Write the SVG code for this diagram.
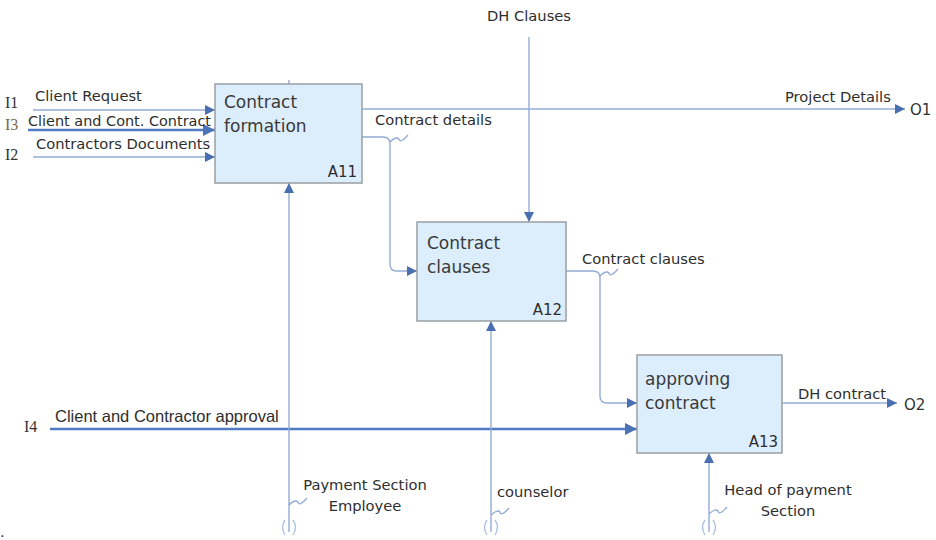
<svg xmlns="http://www.w3.org/2000/svg" width="936" height="540" viewBox="0 0 936 540">
  <defs>
    <marker id="arr" viewBox="0 0 10 10" refX="10" refY="5" markerWidth="10" markerHeight="10" markerUnits="userSpaceOnUse" orient="auto">
      <path d="M0,0 L10,5 L0,10 z" fill="#4a6fb0"/>
    </marker>
    <marker id="arrL" viewBox="0 0 10 10" refX="10" refY="5" markerWidth="13" markerHeight="12" markerUnits="userSpaceOnUse" orient="auto">
      <path d="M0,0 L10,5 L0,10 z" fill="#4a73b8"/>
    </marker>
  </defs>
  <style>
    .box { fill: #dcedfc; stroke: #9a9ea3; stroke-width: 1.5; }
    .btxt { font-family: "DejaVu Sans", Verdana, sans-serif; font-size: 17px; fill: #3a3a3a; }
    .bid { font-family: "DejaVu Sans", Verdana, sans-serif; font-size: 15px; fill: #2f2f2f; text-anchor: end; }
    .ln { fill: none; stroke: #93acd6; stroke-width: 1.4; }
    .lnA { fill: none; stroke: #93acd6; stroke-width: 1.4; marker-end: url(#arr); }
    .thick { fill: none; stroke: #4f7bc4; stroke-width: 2.4; marker-end: url(#arrL); }
    .lbl { font-family: "DejaVu Sans", Tahoma, sans-serif; font-size: 14.7px; fill: #2e2e2e; }
    .lblc { font-family: "Liberation Sans", Calibri, sans-serif; font-size: 16.5px; fill: #2e2e2e; }
    .io { font-family: "Liberation Serif", "Times New Roman", serif; font-size: 16px; fill: #333; }
    .iol { font-family: "DejaVu Sans", Tahoma, sans-serif; font-size: 15px; fill: #333; }
    .sq { fill: none; stroke: #93acd6; stroke-width: 1.3; }
    .tun { fill: none; stroke: #a9bfe0; stroke-width: 1.3; }
  </style>

  <!-- connectors -->
  <g id="connectors">
    <!-- inputs to A11 -->
    <line class="lnA" x1="33" y1="110" x2="215" y2="110"/>
    <line class="thick" x1="28" y1="130" x2="215" y2="130"/>
    <line class="lnA" x1="33" y1="157" x2="215" y2="157"/>
    <!-- A11 output: Project Details -->
    <line class="lnA" x1="362" y1="109" x2="905" y2="109"/>
    <!-- A11 -> A12: Contract details -->
    <path class="lnA" d="M362,137 L383,137 Q390,137 390,144 L390,264 Q390,271 397,271 L417,271"/>
    <path class="sq" d="M390,142 Q396,136 399,139 Q400,144 408,135"/>
    <!-- DH Clauses control -->
    <line class="lnA" x1="529" y1="37" x2="529" y2="222"/>
    <!-- A12 -> A13: Contract clauses -->
    <path class="lnA" d="M566,271 L593,271 Q600,271 600,278 L600,396 Q600,403 607,403 L637,403"/>
    <path class="sq" d="M600,276 Q606,270 609,273 Q610,278 618,269"/>
    <!-- I4 -->
    <line class="thick" x1="50" y1="429" x2="637" y2="429"/>
    <!-- A13 output: DH contract -->
    <line class="lnA" x1="782" y1="403" x2="897" y2="403"/>
    <!-- mechanisms -->
    <line class="lnA" x1="289" y1="532" x2="289" y2="183"/>
    <line class="lnA" x1="491" y1="532" x2="491" y2="321"/>
    <line class="lnA" x1="709" y1="532" x2="709" y2="453"/>
    <line class="ln" x1="289" y1="80" x2="289" y2="84"/>
    <path class="sq" d="M289,505 Q295,499 298,502 Q299,507 307,498"/>
    <path class="sq" d="M491,515 Q497,509 500,512 Q501,517 509,508"/>
    <path class="sq" d="M709,514 Q715,508 718,511 Q719,516 727,507"/>
    <!-- tunnel marks -->
    <path class="tun" d="M285,520 Q280,527 285,535 M293,520 Q298,527 293,535"/>
    <path class="tun" d="M487,520 Q482,527 487,535 M495,520 Q500,527 495,535"/>
    <path class="tun" d="M705,520 Q700,527 705,535 M713,520 Q718,527 713,535"/>
  </g>

  <!-- A11 -->
  <g id="A11">
    <rect class="box" x="215" y="84" width="147" height="99"/>
    <text class="btxt" x="224" y="108">Contract</text>
    <text class="btxt" x="224" y="132">formation</text>
    <text class="bid" x="357" y="177">A11</text>
  </g>

  <!-- A12 -->
  <g id="A12">
    <rect class="box" x="417" y="222" width="149" height="99"/>
    <text class="btxt" x="427" y="249">Contract</text>
    <text class="btxt" x="427" y="273">clauses</text>
    <text class="bid" x="562" y="315">A12</text>
  </g>

  <!-- A13 -->
  <g id="A13">
    <rect class="box" x="637" y="355" width="145" height="98"/>
    <text class="btxt" x="645" y="385">approving</text>
    <text class="btxt" x="645" y="409">contract</text>
    <text class="bid" x="778" y="447">A13</text>
  </g>

  <!-- boundary labels -->
  <g id="labels">
    <text class="io" x="5" y="108">I1</text>
    <text class="io" x="5" y="130" style="fill:#7a6a4a">I3</text>
    <text class="io" x="5" y="160">I2</text>
    <text class="io" x="24" y="432">I4</text>
    <text class="lbl" x="35" y="101">Client Request</text>
    <text class="lbl" x="28" y="126" textLength="183" lengthAdjust="spacingAndGlyphs">Client and Cont. Contract</text>
    <text class="lbl" x="36" y="149">Contractors Documents</text>
    <text class="lblc" x="55" y="422">Client and Contractor approval</text>
    <text class="lbl" x="529" y="21" text-anchor="middle">DH Clauses</text>
    <text class="lbl" x="785" y="102">Project Details</text>
    <text class="iol" x="910" y="115">O1</text>
    <text class="lbl" x="375" y="125">Contract details</text>
    <text class="lbl" x="582" y="264">Contract clauses</text>
    <text class="lbl" x="798" y="399">DH contract</text>
    <text class="iol" x="904" y="410">O2</text>
    <text class="lbl" x="365" y="490" text-anchor="middle">Payment Section</text>
    <text class="lbl" x="365" y="511" text-anchor="middle">Employee</text>
    <text class="lbl" x="497" y="497">counselor</text>
    <text class="lbl" x="788" y="495" text-anchor="middle">Head of payment</text>
    <text class="lbl" x="788" y="516" text-anchor="middle">Section</text>
    <text class="lbl" x="0" y="537">.</text>
  </g>
</svg>
